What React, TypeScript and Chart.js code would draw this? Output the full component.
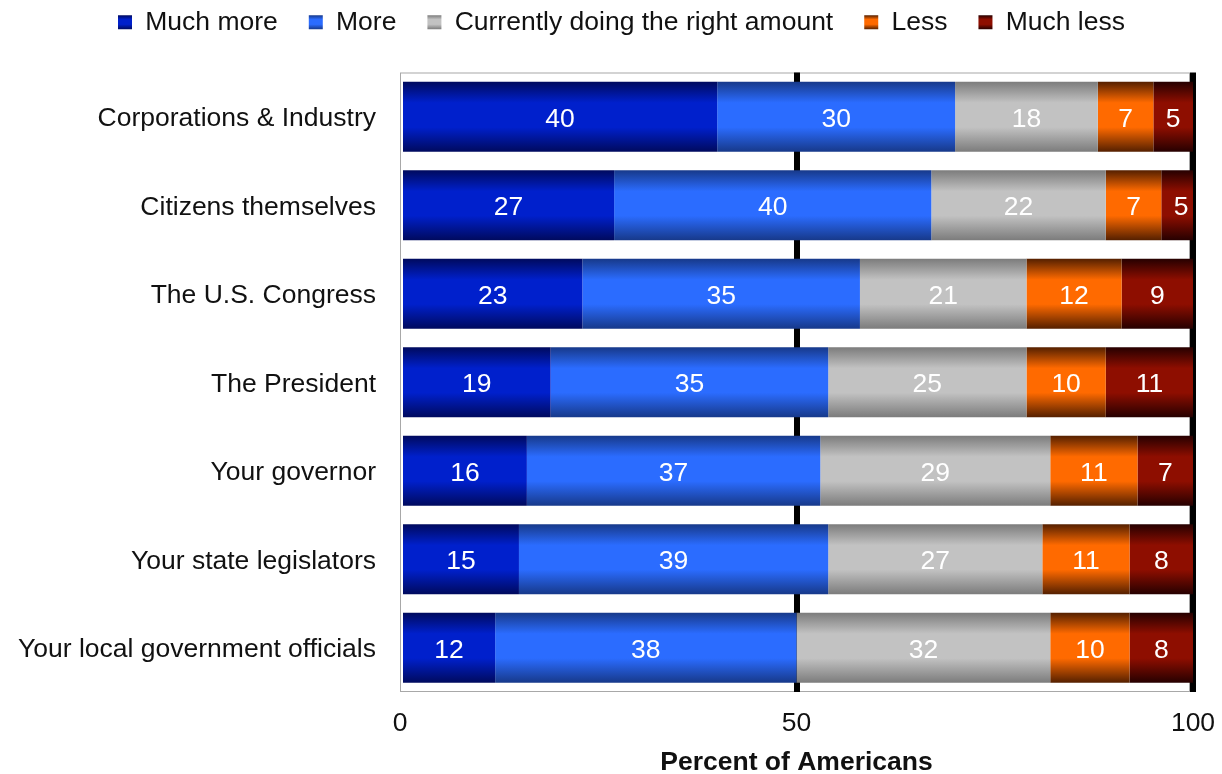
import React, { useEffect, useRef } from "react";
import { Chart, registerables } from "chart.js";

Chart.register(...registerables);

const categories = [
  "Corporations & Industry",
  "Citizens themselves",
  "The U.S. Congress",
  "The President",
  "Your governor",
  "Your state legislators",
  "Your local government officials",
];

const seriesNames = ["Much more", "More", "Currently doing the right amount", "Less", "Much less"];

const muchMore = [40, 27, 23, 19, 16, 15, 12];
const more = [30, 40, 35, 35, 37, 39, 38];
const rightAmount = [18, 22, 21, 25, 29, 27, 32];
const less = [7, 7, 12, 10, 11, 11, 10];
const muchLess = [5, 5, 9, 11, 7, 8, 8];

const xTicks = [0, 50, 100];

const midColors = ["#0020cc", "#2b6cff", "#c2c2c2", "#ff6a00", "#8e0e00"];
const edgeColors = ["#000a5e", "#17398a", "#7c7c7c", "#552000", "#260000"];

const FONT = '"Liberation Sans", Arial, sans-serif';
const FS = 26.5;
const BAR_PCT = 0.79;
const LEGEND_SHIFT_Y = 27;

function makeGradient(ctx: CanvasRenderingContext2D, y0: number, y1: number, idx: number) {
  const g = ctx.createLinearGradient(0, y0, 0, y1);
  g.addColorStop(0, edgeColors[idx]);
  g.addColorStop(0.3, midColors[idx]);
  g.addColorStop(0.65, midColors[idx]);
  g.addColorStop(1, edgeColors[idx]);
  return g;
}

function gradientFor(idx: number) {
  return (c: any) => {
    const chart = c.chart;
    const y = chart.scales && chart.scales.y;
    if (c.type !== "data" || !y || !chart.chartArea) return midColors[idx];
    const center = y.getPixelForValue(c.dataIndex);
    const half = ((y.height / categories.length) * BAR_PCT) / 2;
    return makeGradient(chart.ctx, center - half, center + half, idx);
  };
}

const framePlugin = {
  id: "frame",
  beforeDraw(chart: any) {
    const { ctx, chartArea: a } = chart;
    ctx.save();
    ctx.strokeStyle = "#a8a8a8";
    ctx.lineWidth = 1;
    ctx.strokeRect(a.left + 0.5, a.top + 0.5, a.right - a.left - 4, a.bottom - a.top - 1);
    ctx.restore();
  },
};

const legendShiftPlugin = {
  id: "legendShift",
  afterLayout(chart: any) {
    const lg = chart.legend;
    if (!lg) return;
    lg.top -= LEGEND_SHIFT_Y;
    lg.bottom -= LEGEND_SHIFT_Y;
    lg.left += 25;
    lg.right += 25;
  },
};

const valueLabelsPlugin = {
  id: "valueLabels",
  afterDatasetsDraw(chart: any) {
    const { ctx } = chart;
    ctx.save();
    ctx.font = `${FS}px ${FONT}`;
    ctx.fillStyle = "#ffffff";
    ctx.textAlign = "center";
    ctx.textBaseline = "middle";
    chart.data.datasets.forEach((ds: any, di: number) => {
      const meta = chart.getDatasetMeta(di);
      meta.data.forEach((el: any, i: number) => {
        const p = el.getProps(["x", "base", "y"], true);
        ctx.fillText(String(ds.data[i]), (p.x + p.base) / 2, p.y + 2.5);
      });
    });
    ctx.restore();
  },
};

export default function App() {
  const ref = useRef<HTMLCanvasElement>(null);

  useEffect(() => {
    const seriesData = [muchMore, more, rightAmount, less, muchLess];
    const chart = new Chart(ref.current as HTMLCanvasElement, {
      type: "bar",
      data: {
        labels: categories,
        datasets: seriesNames.map((name, i) => ({
          label: name,
          data: seriesData[i],
          backgroundColor: gradientFor(i),
          borderWidth: 0,
          barPercentage: BAR_PCT,
          categoryPercentage: 1,
        })),
      },
      options: {
        indexAxis: "y",
        animation: false,
        responsive: true,
        maintainAspectRatio: false,
        events: [],
        layout: { padding: { top: 5, right: 29, bottom: 0, left: 0 } },
        plugins: {
          tooltip: { enabled: false },
          legend: {
            position: "top",
            labels: {
              boxWidth: 14,
              boxHeight: 14,
              padding: 31,
              color: "#111111",
              font: { family: FONT, size: FS },
              generateLabels: (chart: any) => {
                const items = Chart.defaults.plugins.legend.labels.generateLabels(chart);
                const boxTop = 5 - LEGEND_SHIFT_Y + 31 + (FS - 14) / 2;
                items.forEach((it: any, i: number) => {
                  it.fillStyle = makeGradient(chart.ctx, boxTop, boxTop + 14, i);
                  it.lineWidth = 0;
                  it.strokeStyle = "rgba(0,0,0,0)";
                });
                return items;
              },
            },
          },
        },
        scales: {
          x: {
            stacked: true,
            min: 0,
            max: 100,
            afterBuildTicks: (s: any) => {
              s.ticks = xTicks.map((v) => ({ value: v }));
            },
            afterFit: (s: any) => {
              s.height = 82;
              s.paddingLeft = 0;
              s.paddingRight = 0;
            },
            grid: {
              drawTicks: false,
              lineWidth: 6,
              color: (c: any) => (c.tick && c.tick.value > 0 ? "#000000" : "rgba(0,0,0,0)"),
            },
            border: { display: false },
            ticks: {
              padding: 16,
              color: "#111111",
              font: { family: FONT, size: FS },
            },
            title: {
              display: true,
              text: "Percent of Americans",
              color: "#111111",
              font: { family: FONT, size: FS, weight: "bold", lineHeight: 1 },
              padding: { top: 4, bottom: -2 },
            },
          },
          y: {
            stacked: true,
            afterFit: (s: any) => {
              s.width = 400;
            },
            grid: { display: false, drawTicks: false },
            border: { display: false },
            ticks: {
              padding: 24,
              labelOffset: 2,
              color: "#111111",
              font: { family: FONT, size: FS },
            },
          },
        },
      },
      plugins: [framePlugin, legendShiftPlugin, valueLabelsPlugin],
    } as any);
    return () => chart.destroy();
  }, []);

  return (
    <div style={{ position: "fixed", left: 0, top: 0, width: 1222, height: 774, background: "#ffffff" }}>
      <canvas ref={ref} />
    </div>
  );
}
